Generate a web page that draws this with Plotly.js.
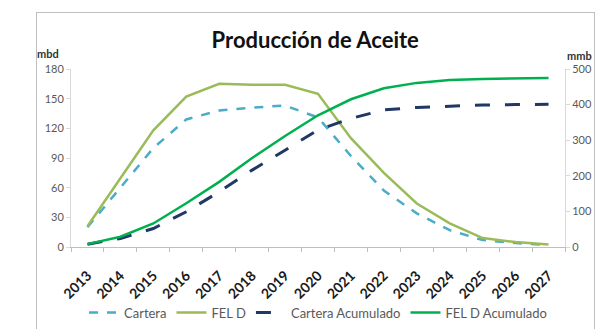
<!DOCTYPE html>
<html>
<head>
<meta charset="utf-8">
<script src="https://cdn.plot.ly/plotly-3.0.1.min.js"></script>
<style>
html,body{margin:0;padding:0;background:#fff;}
#frame{position:absolute;left:36px;top:12px;width:559px;height:330px;border:1px solid #bfbfbf;box-sizing:border-box;}
#chart{position:absolute;left:0;top:0;width:597px;height:329px;}
</style>
</head>
<body>
<div id="frame"></div>
<div id="chart"></div>
<script>
const years = ["2013","2014","2015","2016","2017","2018","2019","2020","2021","2022","2023","2024","2025","2026","2027"];
const cartera = [20, 60, 100, 129, 138, 141, 143, 131, 92, 57, 34, 17, 7, 4, 2];
const felD = [21, 70, 118, 152, 165, 164, 164, 155, 110, 75, 44, 24, 9, 5, 2.5];
const carteraAcum = [8, 24, 52, 99, 155, 216, 272, 329, 361, 385, 392, 396, 399, 400, 401];
const felDAcum = [8, 29, 66, 123, 183, 250, 312, 370, 415, 446, 461, 469, 472, 474, 475];

const traces = [
  {x: years, y: cartera, name: "Cartera", type: "scatter", mode: "lines",
   line: {color: "#4BACC6", width: 2.5, dash: "dash"}},
  {x: years, y: felD, name: "FEL D", type: "scatter", mode: "lines",
   line: {color: "#9BBB59", width: 2.5}},
  {x: years, y: carteraAcum, name: "Cartera Acumulado", type: "scatter", mode: "lines", yaxis: "y2",
   line: {color: "#1F3864", width: 3, dash: "longdash"}},
  {x: years, y: felDAcum, name: "FEL D Acumulado", type: "scatter", mode: "lines", yaxis: "y2",
   line: {color: "#00B050", width: 2.5}}
];

const tickFont = {family: "Lato, 'Open Sans', sans-serif", size: 11, color: "#595959"};

const layout = {
  width: 597, height: 329,
  margin: {l: 71, r: 32, t: 69, b: 82},
  paper_bgcolor: "rgba(0,0,0,0)", plot_bgcolor: "rgba(0,0,0,0)",
  showlegend: true,
  title: {text: "<b>Producción de Aceite</b>", x: 0.528, xanchor: "center", y: 0.876, yanchor: "middle",
          font: {family: "Lato, 'Open Sans', sans-serif", size: 22, color: "#111"}},
  xaxis: {type: "category", range: [-0.5, 14.5], tickangle: -45, tickson: "boundaries", automargin: false,
          ticks: "outside", ticklen: 4, tickcolor: "#bfbfbf", showline: true, linecolor: "#bfbfbf", linewidth: 1,
          showgrid: false, zeroline: false, ticklabelstandoff: 14,
          tickfont: {family: "Lato, 'Open Sans', sans-serif", size: 14, color: "#1a1a1a", weight: "bold"}},
  yaxis: {range: [0, 180], dtick: 30, showgrid: false, zeroline: false, showline: true, linecolor: "#d9d9d9",
          automargin: false,
          ticks: "outside", ticklen: 4, tickcolor: "#d9d9d9", tickfont: tickFont},
  yaxis2: {range: [0, 500], dtick: 100, overlaying: "y", side: "right", showgrid: false, zeroline: false,
           automargin: false,
           showline: true, linecolor: "#d9d9d9", ticks: "outside", ticklen: 4, tickcolor: "#d9d9d9", tickfont: tickFont},
  legend: {orientation: "h", x: 0.5, xanchor: "center", xref: "paper", y: 0.05, yref: "container", yanchor: "middle",
           font: {family: "Lato, 'Open Sans', sans-serif", size: 13, color: "#595959"},
           itemwidth: 30, tracegroupgap: 0},
  annotations: [
    {text: "<b>mbd</b>", xref: "paper", yref: "paper", x: -0.046, y: 1.085, xanchor: "center", yanchor: "middle",
     showarrow: false, font: {family: "Lato, 'Open Sans', sans-serif", size: 11, color: "#333"}},
    {text: "<b>mmb</b>", xref: "paper", yref: "paper", x: 1.03, y: 1.075, xanchor: "center", yanchor: "middle",
     showarrow: false, font: {family: "Lato, 'Open Sans', sans-serif", size: 11, color: "#333"}}
  ]
};

Plotly.newPlot("chart", traces, layout, {displayModeBar: false, staticPlot: true});
</script>
</body>
</html>
